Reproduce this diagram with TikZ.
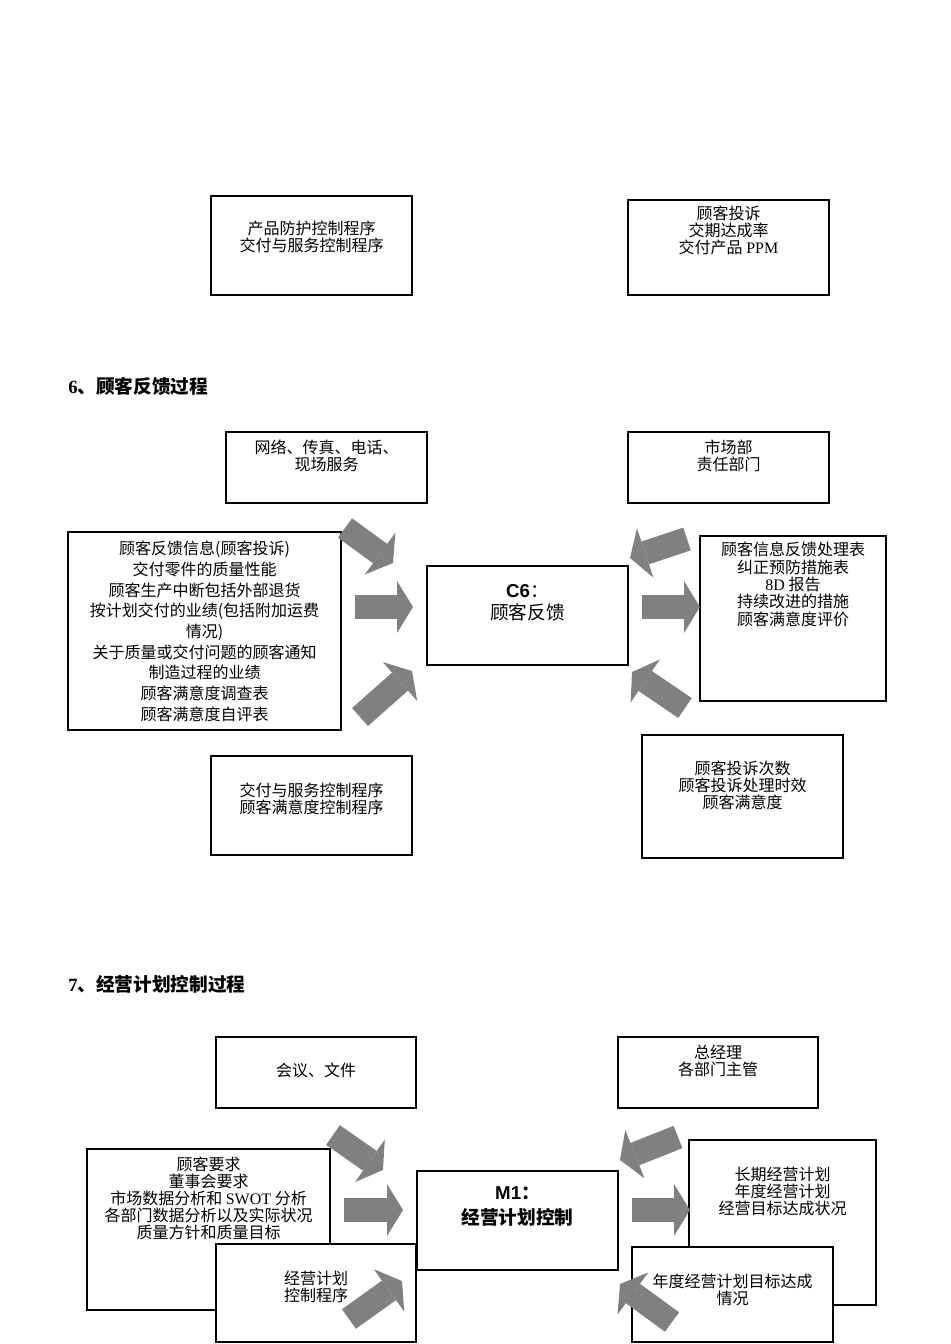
\documentclass[tikz,border=0pt]{standalone}
\usepackage{fontspec}
\setmainfont{Liberation Serif}
\newfontfamily\cjk{Noto Sans CJK SC}
\newfontfamily\arial{Liberation Sans}
\usetikzlibrary{arrows.meta}
\newdimen\pxu
\pxu=0.75pt

\tikzset{
  box/.style={draw, fill=white, line width=0.8pt, inner sep=0pt, align=center, anchor=base,
    font=\cjk\fontsize{12}{12.75}\selectfont},
  boxsize/.style n args={3}{minimum width=#1*\pxu, text height=#2*\pxu, text depth=#3*\pxu},
  title/.style={anchor=base west, inner sep=0pt, font=\cjk\bfseries\fontsize{14}{16}\selectfont},
  fat/.style={draw=gray, line width=18pt, -{Triangle[width=39pt,length=12pt,line width=0pt]}},
}

\begin{document}
\begin{tikzpicture}[x=\pxu, y=-\pxu]
\useasboundingbox (0,0) rectangle (950,1344);

% end of part 5 (boxes sit on the baseline of their last line)
\node[box, boxsize={201}{56}{43}] (ctl5) at (311.5,252) {产品防护控制程序\\交付与服务控制程序};
\node[box, boxsize={201}{54}{41}] (kpi5) at (728.5,254) {顾客投诉\\交期达成率\\交付产品 {\rmfamily PPM}};

% 6
\node[title] (t6) at (68,393) {{\rmfamily 6}、顾客反馈过程};
\node[box, boxsize={201}{38}{33}] (res6) at (326.5,470) {网络、传真、电话、\\现场服务};
\node[box, boxsize={201}{38}{33}] (resp6) at (728.5,470) {市场部\\责任部门};
\node[box, boxsize={273}{188.3}{9.7}, font=\cjk\fontsize{12}{15.5}\selectfont] (in6) at (204.5,720.3)
  {顾客反馈信息(顾客投诉)\\交付零件的质量性能\\顾客生产中断包括外部退货\\按计划交付的业绩(包括附加运费\\情况)\\关于质量或交付问题的顾客通知\\制造过程的业绩\\顾客满意度调查表\\顾客满意度自评表};
\node[box, boxsize={201}{53}{46}, font=\cjk\fontsize{14}{16.5}\selectfont] (proc6) at (527.5,619)
  {{\arial\bfseries C6}：\\顾客反馈};
\node[box, boxsize={186}{89.3}{75.7}, font=\cjk\fontsize{12}{13}\selectfont] (out6) at (793,625.3)
  {顾客信息反馈处理表\\纠正预防措施表\\{\rmfamily 8D} 报告\\持续改进的措施\\顾客满意度评价};
\node[box, boxsize={201}{57}{42}] (ctl6) at (311.5,813) {交付与服务控制程序\\顾客满意度控制程序};
\node[box, boxsize={201}{73}{50}] (kpi6) at (742.5,808) {顾客投诉次数\\顾客投诉处理时效\\顾客满意度};

\coordinate (s6a) at (345,528);  \coordinate (e6a) at (393,563);
\coordinate (s6b) at (355,607);  \coordinate (e6b) at (413,607);
\coordinate (s6c) at (360,717);  \coordinate (e6c) at (412,671);
\coordinate (s6d) at (642,607);  \coordinate (e6d) at (700,607);
\coordinate (s6e) at (687,539);  \coordinate (e6e) at (630,558);
\coordinate (s6f) at (685,708);  \coordinate (e6f) at (632,672);
\foreach \i in {a,b,c,d,e,f}
  \draw[fat] (s6\i) -- (e6\i);

% 7
\node[title] (t7) at (68,991) {{\rmfamily 7}、经营计划控制过程};
\node[box, boxsize={200}{39}{32}] (res7) at (316,1076) {会议、文件};
\node[box, boxsize={200}{38}{33}] (resp7) at (718,1075) {总经理\\各部门主管};
\node[box, boxsize={243}{89}{72}] (in7) at (208.5,1238)
  {顾客要求\\董事会要求\\市场数据分析和 {\rmfamily SWOT} 分析\\各部门数据分析以及实际状况\\质量方针和质量目标};
\node[box, boxsize={201}{53}{46}, font=\cjk\bfseries\fontsize{14}{18.75}\selectfont] (proc7) at (517.5,1224)
  {{\arial M1}：\\经营计划控制};
\node[box, boxsize={187}{74}{91}] (out7) at (782.5,1214) {长期经营计划\\年度经营计划\\经营目标达成状况};
\node[box, boxsize={200}{57}{41}] (ctl7) at (316,1301) {经营计划\\控制程序};
\node[box, boxsize={201}{57}{38}] (kpi7) at (732.5,1304) {年度经营计划目标达成\\情况};

\coordinate (s7a) at (333,1135); \coordinate (e7a) at (383,1170);
\coordinate (s7b) at (344,1210); \coordinate (e7b) at (403,1210);
\coordinate (s7c) at (349,1319); \coordinate (e7c) at (402,1281);
\coordinate (s7d) at (632,1210); \coordinate (e7d) at (690,1210);
\coordinate (s7e) at (678,1137); \coordinate (e7e) at (620,1160);
\coordinate (s7f) at (672,1322); \coordinate (e7f) at (620,1284);
\foreach \i in {a,b,c,d,e,f}
  \draw[fat] (s7\i) -- (e7\i);
\end{tikzpicture}
\end{document}
